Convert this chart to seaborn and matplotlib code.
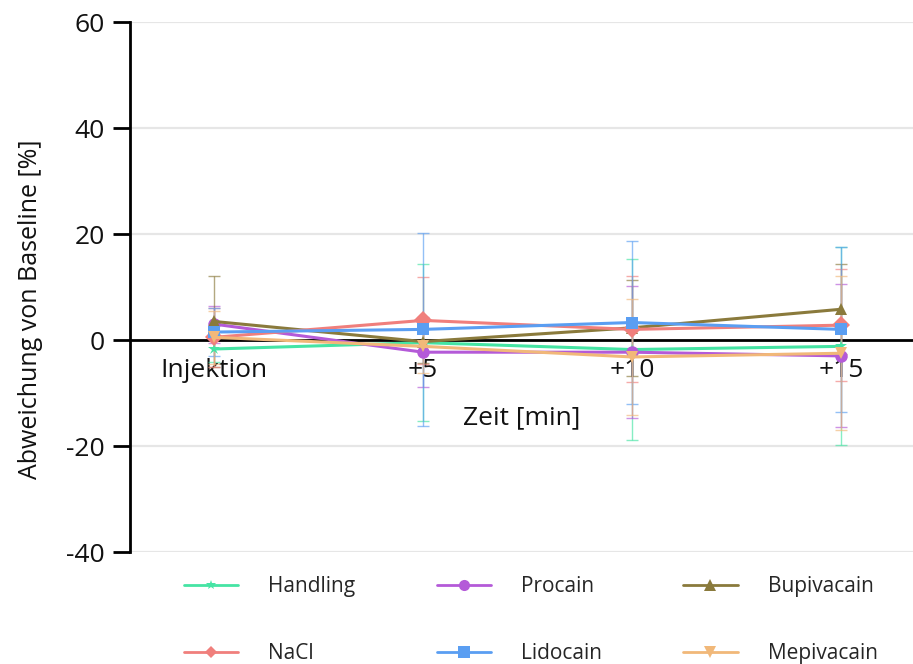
import numpy as np
import pandas as pd
import seaborn as sns
import matplotlib
matplotlib.use("Agg")
import matplotlib.pyplot as plt
from matplotlib.lines import Line2D

# ---- data ----
time_labels = ["Injektion", "+5", "+10", "+15"]
groups = ["Handling", "Procain", "Bupivacain", "NaCl", "Lidocain", "Mepivacain"]

handling_mean = [-1.7, -0.5, -1.8, -1.2]
handling_sd = [2.5, 14.8, 17.0, 18.7]
procain_mean = [3.0, -2.3, -2.3, -3.0]
procain_sd = [3.5, 6.6, 12.5, 13.5]
bupivacain_mean = [3.5, -0.3, 2.3, 5.8]
bupivacain_sd = [8.5, 4.0, 9.0, 8.5]
nacl_mean = [0.5, 3.7, 2.0, 2.8]
nacl_sd = [5.5, 8.2, 10.0, 10.6]
lidocain_mean = [1.5, 2.0, 3.3, 2.0]
lidocain_sd = [4.5, 18.2, 15.4, 15.5]
mepivacain_mean = [0.5, -1.2, -3.2, -2.5]
mepivacain_sd = [5.0, 5.0, 11.0, 14.5]

colors = ["#45e4a4", "#b45ad8", "#8a7a3c", "#f07f7c", "#5a9ef2", "#f1b879"]
markers = ["*", "o", "^", "D", "s", "v"]
msizes = [7, 8, 8, 6, 8, 8]

means = [handling_mean, procain_mean, bupivacain_mean, nacl_mean, lidocain_mean, mepivacain_mean]
sds = [handling_sd, procain_sd, bupivacain_sd, nacl_sd, lidocain_sd, mepivacain_sd]

rows = []
for g, m, s in zip(groups, means, sds):
    for i, t in enumerate(time_labels):
        rows.append({"Gruppe": g, "x": i, "Zeit": t, "mean": m[i], "sd": s[i]})
df = pd.DataFrame(rows)

sns.set_theme(style="white")
plt.rcParams["font.family"] = ["Open Sans", "DejaVu Sans"]
plt.rcParams["axes.unicode_minus"] = False

fig = plt.figure(figsize=(9.13, 6.64), dpi=100)
ax = fig.add_axes([130 / 913, 1 - 552 / 664, 783 / 913, 530 / 664])

# grid
for yv in [-40, -20, 20, 40, 60]:
    ax.axhline(yv, color="#e6e6e6", lw=1.6, zorder=0)

# error bars
for g, c in zip(groups, colors):
    d = df[df["Gruppe"] == g]
    ax.errorbar(d["x"], d["mean"], yerr=d["sd"], fmt="none", ecolor=c,
                elinewidth=1.0, capsize=4, capthick=1.0, alpha=0.65, zorder=2)

sns.lineplot(data=df, x="x", y="mean", hue="Gruppe", style="Gruppe",
             hue_order=groups, style_order=groups, palette=colors,
             markers=markers, dashes=False, linewidth=2.2, markersize=9,
             markeredgewidth=0, legend=False, ax=ax, zorder=3)

ax.set_xlim(-0.402, 3.344)
ax.set_ylim(-40, 60)
ax.set_yticks([-40, -20, 0, 20, 40, 60])
ax.set_xticks(range(4))
ax.set_xticklabels(time_labels)

for sp in ["top", "right"]:
    ax.spines[sp].set_visible(False)
ax.spines["bottom"].set_position(("data", 0))
ax.spines["bottom"].set_color("black")
ax.spines["bottom"].set_linewidth(2.0)
ax.spines["left"].set_color("black")
ax.spines["left"].set_linewidth(2.0)
ax.spines["bottom"].set_zorder(1)

ax.tick_params(axis="y", which="major", direction="out", length=12, width=2,
               color="black", labelsize=19, pad=6, left=True)
ax.tick_params(axis="x", which="major", length=0, labelsize=19, pad=13)
for lbl in ax.get_xticklabels() + ax.get_yticklabels():
    lbl.set_color("#111111")

ax.set_xlabel("Zeit [min]", fontsize=19, color="#111111", labelpad=16)
ax.set_ylabel("Abweichung von Baseline [%]", fontsize=18, color="#111111")
ax.yaxis.set_label_coords(-0.111, 0.4585)

# legend
handles = [Line2D([0], [0], color=c, marker=mk, lw=2.0, markersize=ms, markeredgewidth=0)
           for c, mk, ms in zip(colors, markers, msizes)]
order = [0, 3, 1, 4, 2, 5]
fig.legend([handles[i] for i in order], [groups[i] for i in order],
           loc="lower left", bbox_to_anchor=(184 / 913, 0.0), ncol=3, frameon=False,
           fontsize=15, handlelength=2.6, handletextpad=1.45, columnspacing=3.9,
           labelspacing=2.2, borderpad=0, borderaxespad=0)

fig.savefig("out.png", dpi=100)
